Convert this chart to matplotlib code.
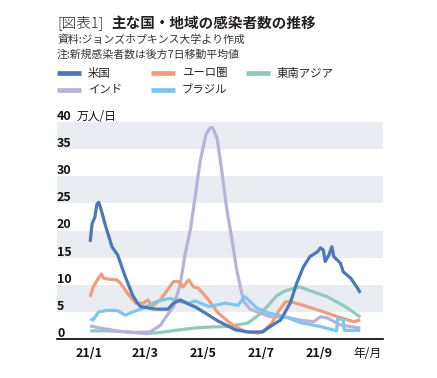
import numpy as np
import matplotlib
matplotlib.use("Agg")
import matplotlib.pyplot as plt
import matplotlib.dates as mdates
from matplotlib.lines import Line2D

plt.rcParams['font.family'] = ['Noto Sans CJK JP', 'DejaVu Sans']

# ---------------- data (万人/日, 7-day average) ----------------
us_dates = ["2021-01-02", "2021-01-04", "2021-01-07", "2021-01-09", "2021-01-11", "2021-01-13",
            "2021-01-18", "2021-01-25", "2021-01-31", "2021-02-08", "2021-02-16", "2021-02-21",
            "2021-02-24", "2021-03-08", "2021-03-14", "2021-03-25", "2021-03-31", "2021-04-07",
            "2021-04-15", "2021-04-23", "2021-05-07", "2021-05-17", "2021-05-25", "2021-06-04",
            "2021-06-18", "2021-07-03", "2021-07-11", "2021-07-22", "2021-08-01", "2021-08-08",
            "2021-08-15", "2021-08-22", "2021-08-30", "2021-09-02", "2021-09-05", "2021-09-07",
            "2021-09-11", "2021-09-14", "2021-09-16", "2021-09-23", "2021-09-26", "2021-10-04",
            "2021-10-11", "2021-10-14"]
us_vals = [17.9, 21.2, 22.5, 24.8, 25.2, 24.2,
           21.0, 17.0, 15.5, 11.5, 8.0, 6.6,
           6.0, 5.6, 5.5, 5.5, 6.6, 7.2,
           6.5, 5.9, 4.4, 3.3, 2.6, 1.7,
           1.3, 1.3, 2.3, 3.5, 6.6, 10.3,
           13.3, 15.2, 16.1, 16.8, 16.4, 14.3,
           15.5, 17.0, 15.2, 14.0, 12.4, 11.2,
           9.4, 8.5]

eu_dates = ["2021-01-02", "2021-01-05", "2021-01-10", "2021-01-14", "2021-01-16", "2021-01-23",
            "2021-01-30", "2021-02-03", "2021-02-10", "2021-02-19", "2021-02-27", "2021-03-04",
            "2021-03-08", "2021-03-17", "2021-03-31", "2021-04-05", "2021-04-10", "2021-04-16",
            "2021-04-21", "2021-04-26", "2021-05-07", "2021-05-17", "2021-06-01", "2021-06-15",
            "2021-06-29", "2021-07-06", "2021-07-13", "2021-07-20", "2021-07-27", "2021-08-01",
            "2021-08-15", "2021-09-02", "2021-09-20", "2021-10-07", "2021-10-14"]
eu_vals = [7.8, 9.5, 11.0, 12.0, 11.2, 11.0,
           10.9, 10.3, 8.5, 6.6, 6.6, 7.2,
           6.0, 7.2, 10.6, 10.6, 9.6, 10.9,
           9.6, 9.4, 7.2, 4.8, 2.6, 1.3,
           1.1, 1.8, 3.0, 5.2, 6.8, 6.9,
           6.2, 5.2, 4.1, 3.2, 3.5]

sea_dates = ["2021-01-02", "2021-01-21", "2021-02-10", "2021-03-02", "2021-03-17", "2021-04-02",
             "2021-04-21", "2021-05-07", "2021-05-26", "2021-06-17", "2021-07-01", "2021-07-11",
             "2021-07-18", "2021-07-26", "2021-08-04", "2021-08-11", "2021-08-22", "2021-09-09",
             "2021-09-26", "2021-10-08", "2021-10-14"]
sea_vals = [1.5, 1.5, 1.3, 1.0, 1.2, 1.6,
            2.0, 2.2, 2.3, 2.9, 4.7, 6.6,
            8.0, 8.8, 9.3, 9.6, 8.9, 7.8,
            6.2, 4.8, 4.0]

india_dates = ["2021-01-02", "2021-01-13", "2021-01-30", "2021-02-16", "2021-03-06", "2021-03-17",
               "2021-03-22", "2021-03-31", "2021-04-07", "2021-04-12", "2021-04-18", "2021-04-23",
               "2021-04-28", "2021-05-04", "2021-05-08", "2021-05-11", "2021-05-16", "2021-05-21",
               "2021-05-26", "2021-06-01", "2021-06-06", "2021-06-13", "2021-06-20", "2021-06-30",
               "2021-07-11", "2021-07-29", "2021-08-14", "2021-08-26", "2021-09-02", "2021-09-09",
               "2021-09-23", "2021-10-14"]
india_vals = [2.4, 2.0, 1.5, 1.2, 1.3, 2.5,
              3.8, 6.0, 10.0, 15.5, 20.4, 26.5,
              32.7, 37.6, 38.8, 39.0, 37.0, 30.8,
              24.1, 17.9, 12.4, 6.9, 5.5, 4.8,
              4.1, 4.0, 3.4, 3.2, 4.1, 3.9,
              2.6, 2.0]

brazil_dates = ["2021-01-02", "2021-01-05", "2021-01-11", "2021-01-21", "2021-01-31", "2021-02-08",
                "2021-02-16", "2021-02-27", "2021-03-13", "2021-03-27", "2021-04-07", "2021-04-15",
                "2021-04-23", "2021-05-07", "2021-05-25", "2021-06-07", "2021-06-14", "2021-06-18",
                "2021-06-22", "2021-06-27", "2021-07-09", "2021-07-25", "2021-08-12", "2021-09-02",
                "2021-09-19", "2021-09-20", "2021-09-26", "2021-09-27", "2021-10-14"]
brazil_vals = [3.7, 3.5, 5.0, 5.3, 5.2, 4.4,
               5.0, 5.7, 6.9, 7.5, 6.9, 6.6,
               7.0, 6.0, 6.6, 6.2, 7.8, 7.2,
               6.5, 5.7, 4.8, 4.2, 3.0, 2.3,
               1.5, 3.7, 3.6, 1.6, 1.6]

series = [
    ("東南アジア", sea_dates, sea_vals, "#8ecbbb"),
    ("インド", india_dates, india_vals, "#b9b2d8"),
    ("ユーロ圏", eu_dates, eu_vals, "#ef9d7e"),
    ("ブラジル", brazil_dates, brazil_vals, "#80c6ea"),
    ("米国", us_dates, us_vals, "#4d78b5"),
]
legend_order = ["米国", "インド", "ユーロ圏", "ブラジル", "東南アジア"]

y_ticks = [0, 5, 10, 15, 20, 25, 30, 35, 40]
x_tick_dates = ["2021-01-01", "2021-03-01", "2021-05-01", "2021-07-01", "2021-09-01"]
x_tick_labels = ["21/1", "21/3", "21/5", "21/7", "21/9"]

title_prefix = "[図表1]"
title_main = "主な国・地域の感染者数の推移"
source_text = "資料:ジョンズホプキンス大学より作成"
note_text = "注:新規感染者数は後方7日移動平均値"
unit_text = "万人/日"
xunit_text = "年/月"

# ---------------- figure ----------------
W, H = 437, 378
fig = plt.figure(figsize=(W / 100, H / 100), dpi=100)
fig.patch.set_facecolor("white")

def fx(px):
    return px / W

def fy(py):
    return 1 - py / H

ax = fig.add_axes([fx(57), fy(339), fx(383) - fx(57), fy(122) - fy(339)])
ax.set_facecolor("white")

# alternating bands
for i in range(len(y_ticks) - 1):
    if i % 2 == 1:
        ax.axhspan(y_ticks[i], y_ticks[i + 1], color="#e9ecf0", lw=0, zorder=0)

for name, d, v, c in series:
    ax.plot(mdates.datestr2num(d), v, color=c, lw=2.3, solid_joinstyle="round",
            solid_capstyle="butt", zorder=3)

ax.set_xlim(mdates.datestr2num("2020-11-28"), mdates.datestr2num("2021-11-07"))
ax.set_ylim(0, 40)
for s in ["top", "right", "left"]:
    ax.spines[s].set_visible(False)
ax.spines["bottom"].set_color("black")
ax.spines["bottom"].set_linewidth(1.2)
ax.spines["bottom"].set_zorder(5)
ax.set_xticks([])
ax.set_yticks([])

# y labels (left aligned, sitting on top of their value)
for t in y_ticks:
    ax.annotate(str(t), xy=(0, t), xycoords=("axes fraction", "data"),
                xytext=(0, 1.5), textcoords="offset points",
                ha="left", va="baseline", fontsize=9, fontweight="bold",
                color="#111111", zorder=6, annotation_clip=False)
ax.annotate(unit_text, xy=(0, 40), xycoords=("axes fraction", "data"),
            xytext=(14, 1.5), textcoords="offset points",
            ha="left", va="baseline", fontsize=8.5, color="#111111",
            annotation_clip=False)

# x labels
for d, lab in zip(x_tick_dates, x_tick_labels):
    ax.annotate(lab, xy=(mdates.datestr2num(d), 0), xycoords=("data", "axes fraction"),
                xytext=(0, -6), textcoords="offset points",
                ha="center", va="top", fontsize=9, fontweight="bold",
                color="#111111", annotation_clip=False)
ax.annotate(xunit_text, xy=((368 - 57) / (383 - 57), 0), xycoords="axes fraction",
            xytext=(0, -6), textcoords="offset points",
            ha="center", va="top", fontsize=8.5, color="#111111",
            annotation_clip=False)

# titles
fig.text(fx(57), fy(23), title_prefix, fontsize=10.5, va="center", ha="left",
         color="#231f20", fontweight="light")
fig.text(fx(111), fy(23), title_main, fontsize=10.5, va="center", ha="left",
         color="#231f20", fontweight="bold")
fig.text(fx(57), fy(40), source_text, fontsize=7.8, va="center", ha="left", color="#333333")
fig.text(fx(57), fy(54), note_text, fontsize=7.8, va="center", ha="left", color="#333333")

# legend (manual grid)
colors = {n: c for n, d, v, c in series}
col_x = [57, 151, 246]
row_y = [73, 90]
for k, name in enumerate(legend_order):
    col, row = k // 2, k % 2
    x0 = col_x[col]
    y0 = row_y[row]
    fig.add_artist(Line2D([fx(x0), fx(x0 + 24)], [fy(y0), fy(y0)],
                          transform=fig.transFigure, color=colors[name], lw=3.4,
                          solid_capstyle="butt"))
    fig.text(fx(x0 + 31), fy(y0), name, fontsize=8.2, va="center", ha="left",
             color="#222222")

fig.savefig("out.png", dpi=100)
